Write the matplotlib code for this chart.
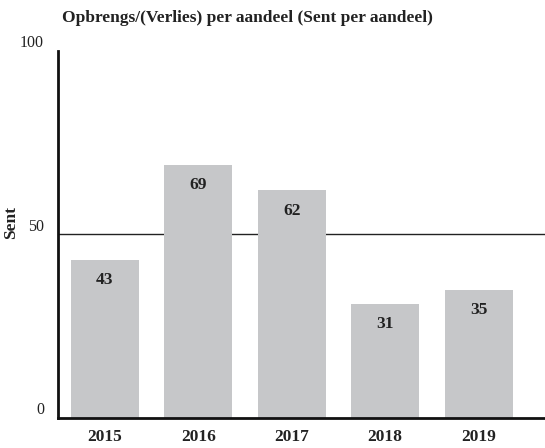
import matplotlib
matplotlib.use("Agg")
import matplotlib.pyplot as plt

years = ["2015", "2016", "2017", "2018", "2019"]
values = [43, 69, 62, 31, 35]
title = "Opbrengs/(Verlies) per aandeel (Sent per aandeel)"

plt.rcParams['font.family'] = ['Liberation Serif', 'DejaVu Serif']

fig = plt.figure(figsize=(5.45, 4.48), dpi=100)
ax = fig.add_axes([58 / 545, 1 - 418 / 448, 487 / 545, 367 / 448])

x = range(len(years))
ax.bar(x, values, width=0.73, color="#c6c7c9", zorder=2)
ax.axhline(50, color="#222222", lw=1.0, zorder=1)

for i, v in zip(x, values):
    ax.text(i, v - 3.3, str(v), ha="center", va="top", fontsize=12.5,
            fontweight="bold", color="#222222", zorder=3)

ax.set_xlim(-0.5, 4.71)
ax.set_ylim(0, 100)
ax.set_xticks(list(x))
ax.set_xticklabels(years, fontsize=12.5, fontweight="bold", color="#222222")
ax.set_yticks([0, 50, 100])
ax.set_yticklabels(["0", "50", "100"], fontsize=11.5, color="#222222")
ax.tick_params(axis="both", length=0)
ax.tick_params(axis="x", pad=8)
ax.tick_params(axis="y", pad=10)
for lab in ax.get_yticklabels():
    lab.set_verticalalignment("bottom")

for s in ["top", "right"]:
    ax.spines[s].set_visible(False)
ax.spines["left"].set_linewidth(2)
ax.spines["bottom"].set_linewidth(2)
ax.spines["left"].set_color("#111111")
ax.spines["bottom"].set_color("#111111")

ax.set_ylabel("Sent", fontsize=12.5, fontweight="bold", color="#222222")
ax.yaxis.set_label_coords(-39 / 487, 196 / 367)
fig.text(62 / 545, 1 - 18 / 448, title, fontsize=12.5, fontweight="bold",
         color="#222222", ha="left", va="center")

fig.savefig("out.png", dpi=100)
